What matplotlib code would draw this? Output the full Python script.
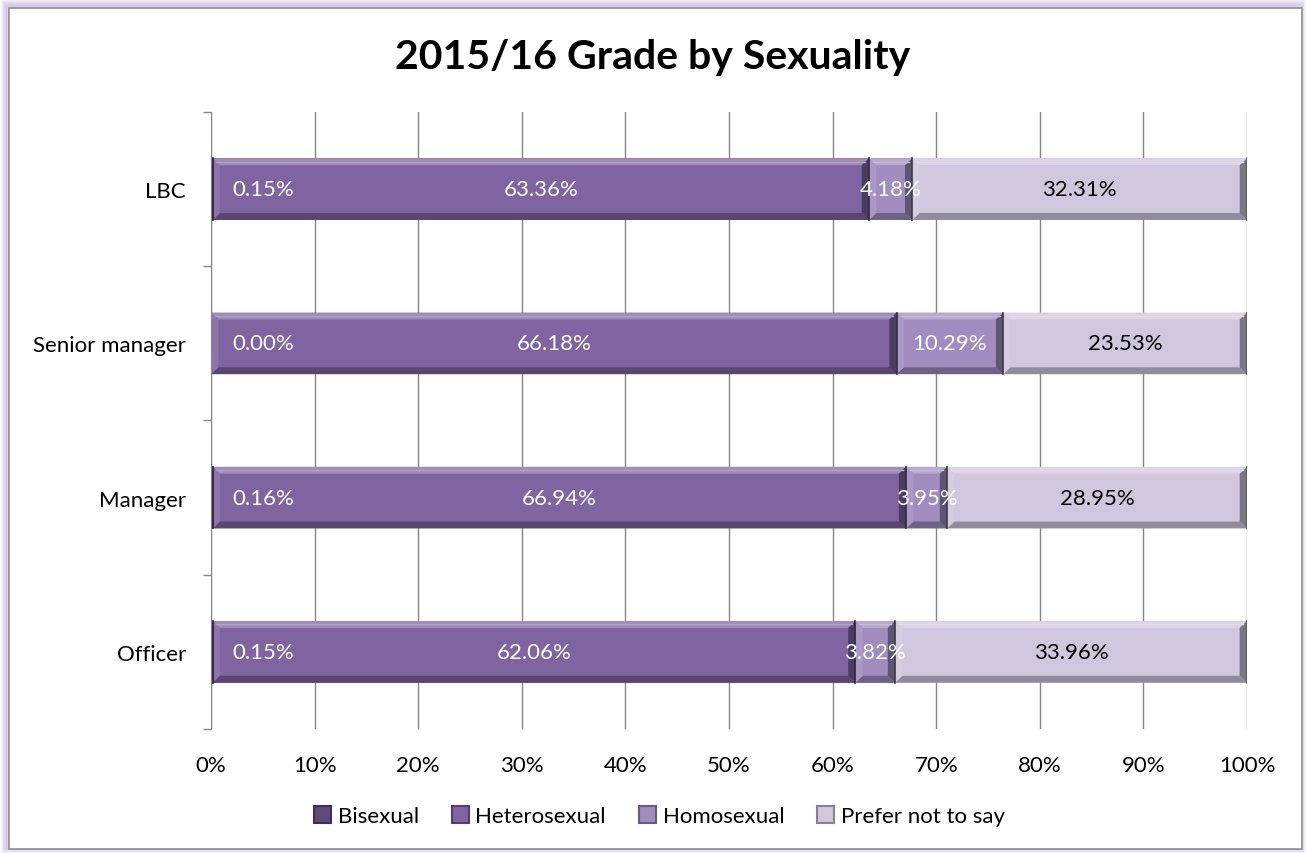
import matplotlib
matplotlib.use("Agg")
import matplotlib.pyplot as plt
from matplotlib.patches import Polygon, Rectangle
from matplotlib.colors import to_rgb
import numpy as np

plt.rcParams['font.family'] = ['Lato', 'DejaVu Sans']

categories = ["Officer", "Manager", "Senior manager", "LBC"]
series = ["Bisexual", "Heterosexual", "Homosexual", "Prefer not to say"]
bisexual = [0.15, 0.16, 0.00, 0.15]
heterosexual = [62.06, 66.94, 66.18, 63.36]
homosexual = [3.82, 3.95, 10.29, 4.18]
prefer_not = [33.96, 28.95, 23.53, 32.31]
values = [bisexual, heterosexual, homosexual, prefer_not]
colors = ["#604a7b", "#8064a2", "#a08cbf", "#d0c6dd"]
label_colors = ["white", "white", "white", "black"]
xticks = np.arange(0, 101, 10)
title = "2015/16 Grade by Sexuality"

FS = 16


def shade(c, f):
    r = np.array(to_rgb(c))
    if f >= 0:
        return tuple(r + (1 - r) * f)
    return tuple(r * (1 + f))


def bevel(ax, x0, y0, w, h, color, bx, by):
    bx = min(bx, w / 2)
    x1, y1 = x0 + w, y0 + h
    top = [(x0, y1), (x1, y1), (x1 - bx, y1 - by), (x0 + bx, y1 - by)]
    bot = [(x0, y0), (x1, y0), (x1 - bx, y0 + by), (x0 + bx, y0 + by)]
    left = [(x0, y0), (x0, y1), (x0 + bx, y1 - by), (x0 + bx, y0 + by)]
    right = [(x1, y0), (x1, y1), (x1 - bx, y1 - by), (x1 - bx, y0 + by)]
    for pts, f in [(top, 0.25), (bot, -0.3), (left, 0.1), (right, -0.4)]:
        ax.add_patch(Polygon(pts, closed=True, facecolor=shade(color, f),
                             edgecolor='none', zorder=3))
    # thin highlight along the upper bevel
    ax.plot([x0 + bx * 0.5, x1 - bx * 0.5], [y1 - by * 0.5, y1 - by * 0.5],
            color=shade(color, 0.4), lw=1.0, zorder=3.5)
    ax.plot([x1, x1], [y0, y1], color=shade(color, -0.6), lw=1.2, zorder=4)


fig = plt.figure(figsize=(13.06, 8.54), dpi=100)

# chart frame with a soft purple glow
for i in range(8):
    a = 0.10 + 0.03 * i
    fig.patches.append(Rectangle((0.0015 + i * 0.0006, 0.002 + i * 0.0009),
                                 0.997 - i * 0.0012, 0.996 - i * 0.0018,
                                 transform=fig.transFigure, fill=False,
                                 edgecolor="#c9b6e4", alpha=a, lw=2.2, zorder=-2))
fig.patches.append(Rectangle((0.0069, 0.0047), 0.9901, 0.9848,
                             transform=fig.transFigure, facecolor="white",
                             edgecolor="#8c8c8c", lw=1.2, zorder=-1))

ax = fig.add_axes([0.1616, 0.1452, 0.7932, 0.7225])
ax.patch.set_alpha(0)
y = np.arange(len(categories))
h = 0.40
left = np.zeros(len(categories))
bars = []
for vals, col in zip(values, colors):
    b = ax.barh(y, vals, left=left, height=h, color=col, edgecolor='none', zorder=2)
    bars.append(b)
    left = left + np.array(vals)

for b, col in zip(bars, colors):
    for p in b.patches:
        if p.get_width() > 0:
            bevel(ax, p.get_x(), p.get_y(), p.get_width(), p.get_height(), col, 0.7, 0.045)

# data labels
for k, (vals, b, lc) in enumerate(zip(values, bars, label_colors)):
    for i, (v, p) in enumerate(zip(vals, b.patches)):
        cx = p.get_x() + p.get_width() / 2
        if k == 0:
            cx = 5.0
        ax.text(cx, y[i], f"{v:.2f}%", ha='center', va='center', color=lc,
                fontsize=FS, zorder=5)

ax.set_xlim(0, 100)
ax.set_ylim(-0.5, len(categories) - 0.5)
ax.set_xticks(xticks)
ax.set_xticklabels([f"{t}%" for t in xticks], fontsize=FS)
ax.set_yticks(y)
ax.set_yticklabels(categories, fontsize=FS)
ax.set_yticks(np.arange(-0.5, len(categories), 1), minor=True)
ax.tick_params(axis='x', length=0, pad=19)
ax.tick_params(axis='y', which='major', length=0, pad=18)
ax.tick_params(axis='y', which='minor', length=6, color="#868686", width=1)
ax.grid(axis='x', color="#868686", lw=1, zorder=0)
ax.set_axisbelow(True)
for s in ['top', 'right', 'bottom']:
    ax.spines[s].set_visible(False)
ax.spines['left'].set_color("#868686")
ax.spines['left'].set_zorder(6)

fig.text(0.5, 0.933, title, ha='center', va='center', fontsize=29.5, fontweight='bold')

handles = [Rectangle((0, 0), 1, 1, facecolor=c, edgecolor=shade(c, -0.35), lw=1.5)
           for c in colors]
fig.legend(handles, series, loc='center', bbox_to_anchor=(0.505, 0.043), ncol=4,
           frameon=False, fontsize=FS, handlelength=0.75, handleheight=0.75,
           handletextpad=0.3, columnspacing=1.5)

fig.savefig("out.png", dpi=100)
